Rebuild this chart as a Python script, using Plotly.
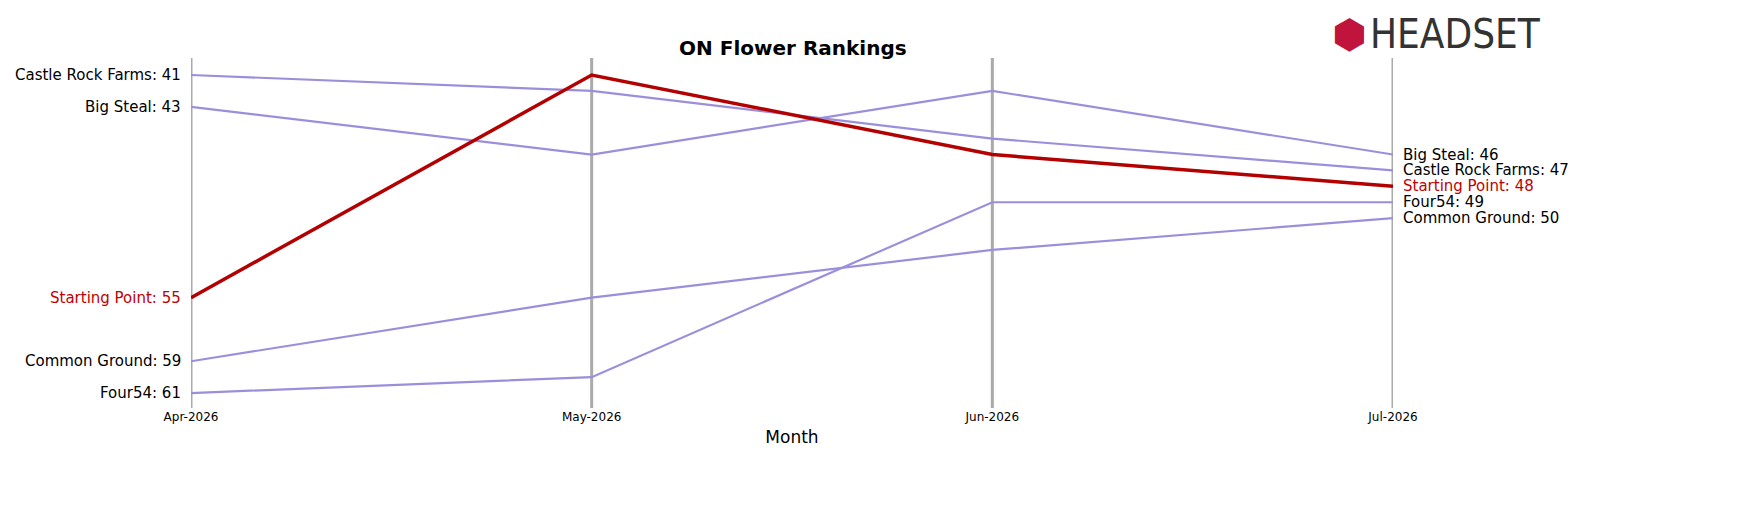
import plotly.graph_objects as go

months = ["Apr-2026", "May-2026", "Jun-2026", "Jul-2026"]
brands = ["Castle Rock Farms", "Big Steal", "Common Ground", "Four54", "Starting Point"]
castle_rock = [41, 42, 45, 47]
big_steal = [43, 46, 42, 46]
common_ground = [59, 55, 52, 50]
four54 = [61, 60, 49, 49]
starting_point = [55, 41, 46, 48]
ranks = [castle_rock, big_steal, common_ground, four54, starting_point]

xs = list(range(len(months)))
fig = go.Figure()
for name, r in zip(brands, ranks):
    hi = name == "Starting Point"
    fig.add_trace(go.Scatter(x=xs, y=r, mode="lines", name=name,
                             line=dict(color="#b30000" if hi else "#9b8fdc", width=3.5 if hi else 2.2)))
    col = "#c00000" if hi else "black"
    fig.add_annotation(x=0, y=r[0], text=f"{name}: {r[0]}", xanchor="right", xshift=-8,
                       showarrow=False, font=dict(size=15, color=col))
    fig.add_annotation(x=3, y=r[-1], text=f"{name}: {r[-1]}", xanchor="left", xshift=8,
                       showarrow=False, font=dict(size=15, color=col))

for x in xs:
    fig.add_shape(type="line", x0=x, x1=x, y0=0, y1=1, yref="paper",
                  line=dict(color="#aaaaaa", width=3), layer="below")

fig.update_layout(
    width=1752, height=506, plot_bgcolor="white", paper_bgcolor="white",
    margin=dict(l=183, r=367, t=50, b=106), showlegend=False,
    font=dict(family="DejaVu Sans", color="black"),
    title=dict(text="<b>ON Flower Rankings</b>", x=0.448, y=0.935, xanchor="center",
               font=dict(size=20, color="black")),
    xaxis=dict(range=[0, 3], tickvals=xs, ticktext=months, showgrid=False, zeroline=False,
               tickfont=dict(size=12, color="black"),
               title=dict(text="Month", font=dict(size=17, color="black"), standoff=8)),
    yaxis=dict(range=[61.94, 39.93], visible=False),
)
fig.add_annotation(xref="paper", yref="paper", x=1.125, y=1.14, xanchor="right", yanchor="top",
                   text="HEADSET", showarrow=False,
                   font=dict(size=40, color="#333333", family="DejaVu Sans Condensed"))
fig.add_annotation(xref="paper", yref="paper", x=0.98, y=1.14, xanchor="right", yanchor="top",
                   text="⬢", showarrow=False, font=dict(size=40, color="#c0143c"))
fig.write_html("out.html")
